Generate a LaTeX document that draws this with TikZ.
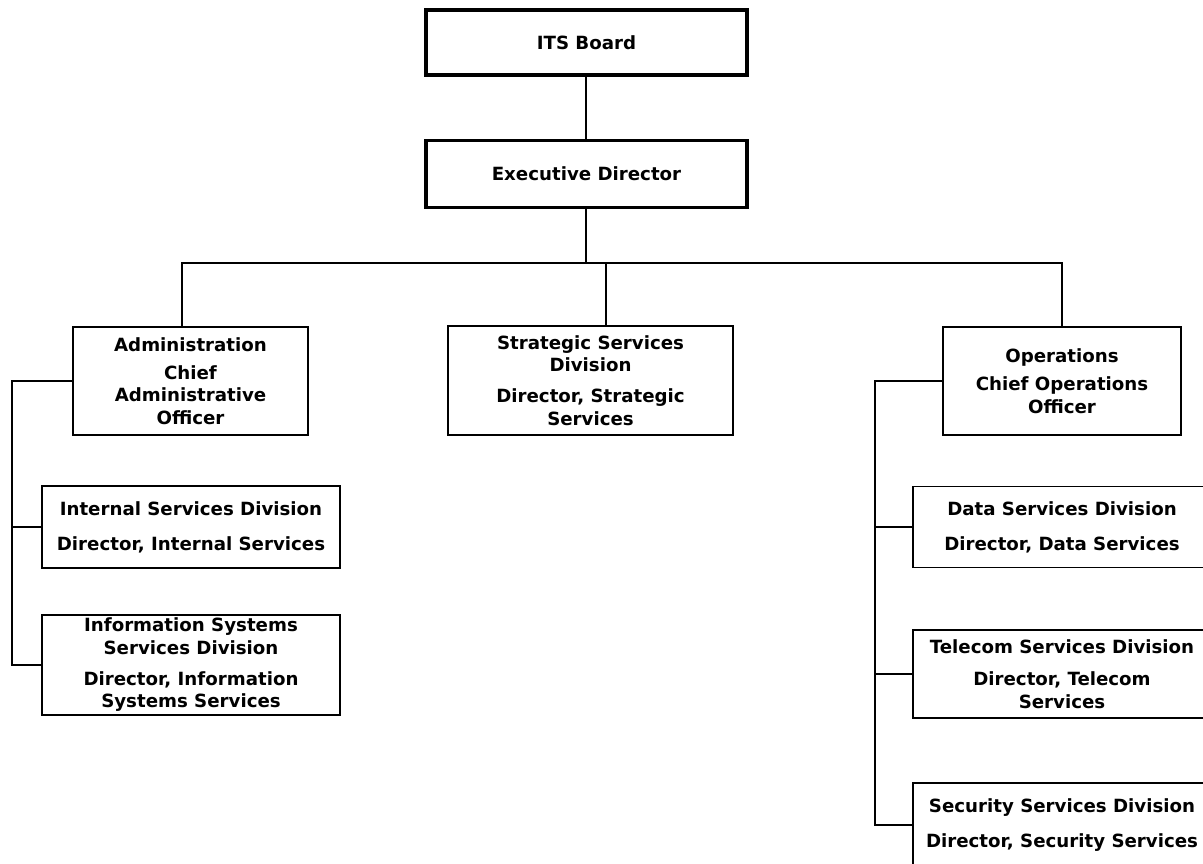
\documentclass[tikz,border=0pt]{standalone}
\usepackage{fontspec}
\setmainfont{DejaVu Sans}
\begin{document}
\begin{tikzpicture}[x=1pt,y=-1pt,
  box/.style={draw, line width=1.8pt, align=center, inner sep=0pt,
    font=\bfseries\fontsize{18.2}{22.5}\selectfont},
  topbox/.style={box, line width=3.8pt},
  conn/.style={draw, line width=1.8pt}]
\useasboundingbox (0,0) rectangle (1203,863);
\clip (0,0) rectangle (1203,863);
% top
\node[topbox, minimum width=321pt, minimum height=65pt] (its) at (586.5,42.5) {ITS Board};
\node[topbox, minimum width=321pt, minimum height=67pt] (ed) at (586.5,174) {Executive Director};
% second level
\node[box, minimum width=235pt, minimum height=108pt] (adm) at (190.5,381)
  {Administration\\[5.5pt] Chief\\ Administrative\\ Officer};
\node[box, minimum width=285pt, minimum height=109pt] (str) at (590.5,380.5)
  {Strategic Services\\ Division\\[8.5pt] Director, Strategic\\ Services};
\node[box, minimum width=238pt, minimum height=108pt] (ops) at (1062,381)
  {Operations\\[5.5pt] Chief Operations\\ Officer};
% left children
\node[box, minimum width=298pt, minimum height=82pt] (int) at (191,527)
  {Internal Services Division\\[12.5pt] Director, Internal Services};
\node[box, minimum width=298pt, minimum height=100pt] (info) at (191,665)
  {Information Systems\\ Services Division\\[8.5pt] Director, Information\\ Systems Services};
% right children
\node[box, minimum width=298pt, minimum height=81pt] (data) at (1062,527)
  {Data Services Division\\[12.5pt] Director, Data Services};
\node[box, minimum width=298pt, minimum height=88pt] (tele) at (1062,674)
  {Telecom Services Division\\[9.5pt] Director, Telecom\\ Services};
\node[box, minimum width=298pt, minimum height=84pt] (sec) at (1062,825)
  {Security Services Division\\[12.5pt] Director, Security Services};
% connectors
\coordinate (bus) at (586,263);
\coordinate (admstem) at (182,263);
\coordinate (strstem) at (606,263);
\coordinate (opsstem) at (1062,263);
\coordinate (lsp) at (12,381);
\coordinate (rsp) at (875,381);
\draw[conn] (its.south -| bus) -- (ed.north -| bus);
\draw[conn] (ed.south -| bus) -- (bus);
\draw[conn] (admstem |- adm.north) -- (admstem) -- (opsstem) -- (ops.north);
\draw[conn] (strstem) -- (strstem |- str.north);
\draw[conn] (adm.west) -- (lsp) -- (lsp |- info.west) -- (info.west);
\draw[conn] (lsp |- int.west) -- (int.west);
\draw[conn] (ops.west) -- (rsp) -- (rsp |- sec.west) -- (sec.west);
\draw[conn] (rsp |- data.west) -- (data.west);
\draw[conn] (rsp |- tele.west) -- (tele.west);
\end{tikzpicture}
\end{document}
